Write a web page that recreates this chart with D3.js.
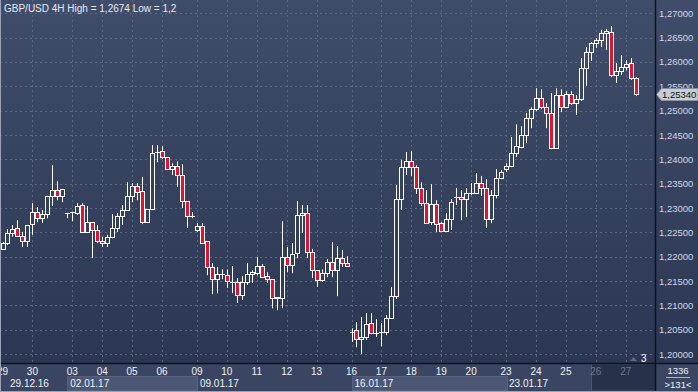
<!DOCTYPE html>
<html>
<head>
<meta charset="utf-8">
<script src="https://cdn.jsdelivr.net/npm/d3@7"></script>
<style>
    html, body { margin: 0; padding: 0; background: #2c3853; overflow: hidden; }
    svg { display: block; font-family: "Liberation Sans", Arial, sans-serif; }
</style>
</head>
<body>
<div id="chart"></div>
<script>
// GBP/USD 4H candles (oldest first)
const opens = [
    1.2216, 1.2228, 1.2249, 1.2259, 1.2243, 1.2232, 1.2267, 1.2292, 1.2279, 1.2288,
    1.2325, 1.2337, 1.2325, 1.2290, 1.2292, 1.2290, 1.2306, 1.2251, 1.2271, 1.2255,
    1.2232, 1.2228, 1.2241, 1.2259, 1.2283, 1.2296, 1.2325, 1.2345, 1.2335, 1.2271,
    1.2298, 1.2415, 1.2417, 1.2405, 1.2380, 1.2386, 1.2368, 1.2314, 1.2283, 1.2255,
    1.2263, 1.2232, 1.2179, 1.2154, 1.2164, 1.2162, 1.2148, 1.2148, 1.2121, 1.2148,
    1.2164, 1.2166, 1.2181, 1.2160, 1.2154, 1.2115, 1.2115, 1.2199, 1.2183, 1.2207,
    1.2286, 1.2290, 1.2209, 1.2172, 1.2152, 1.2166, 1.2189, 1.2172, 1.2197, 1.2187,
    1.2045, 1.2049, 1.2031, 1.2035, 1.2064, 1.2043, 1.2045, 1.2045, 1.2074, 1.2119,
    1.2318, 1.2384, 1.2396, 1.2384, 1.2341, 1.2310, 1.2271, 1.2308, 1.2269, 1.2253,
    1.2277, 1.2322, 1.2322, 1.2318, 1.2331, 1.2331, 1.2351, 1.2341, 1.2277, 1.2327,
    1.2362, 1.2380, 1.2386, 1.2413, 1.2425, 1.2450, 1.2485, 1.2503, 1.2526, 1.2507,
    1.2495, 1.2423, 1.2532, 1.2507, 1.2534, 1.2516, 1.2524, 1.2588, 1.2620, 1.2639,
    1.2645, 1.2659, 1.2662, 1.2573, 1.2581, 1.2590, 1.2598, 1.2567
];
const highs = [
    1.2230, 1.2257, 1.2265, 1.2275, 1.2251, 1.2265, 1.2310, 1.2302, 1.2296, 1.2325,
    1.2388, 1.2355, 1.2339, 1.2290, 1.2292, 1.2310, 1.2310, 1.2304, 1.2271, 1.2265,
    1.2241, 1.2245, 1.2288, 1.2290, 1.2306, 1.2353, 1.2351, 1.2351, 1.2364, 1.2298,
    1.2429, 1.2429, 1.2427, 1.2405, 1.2392, 1.2396, 1.2390, 1.2314, 1.2292, 1.2269,
    1.2269, 1.2232, 1.2187, 1.2179, 1.2174, 1.2174, 1.2181, 1.2156, 1.2160, 1.2187,
    1.2172, 1.2199, 1.2185, 1.2168, 1.2154, 1.2117, 1.2273, 1.2220, 1.2228, 1.2314,
    1.2306, 1.2306, 1.2216, 1.2172, 1.2174, 1.2195, 1.2230, 1.2222, 1.2214, 1.2201,
    1.2053, 1.2066, 1.2076, 1.2084, 1.2084, 1.2072, 1.2064, 1.2080, 1.2138, 1.2347,
    1.2399, 1.2415, 1.2417, 1.2388, 1.2353, 1.2337, 1.2349, 1.2316, 1.2271, 1.2290,
    1.2318, 1.2341, 1.2337, 1.2341, 1.2351, 1.2372, 1.2366, 1.2359, 1.2337, 1.2380,
    1.2378, 1.2392, 1.2446, 1.2472, 1.2468, 1.2495, 1.2507, 1.2546, 1.2544, 1.2516,
    1.2536, 1.2546, 1.2544, 1.2540, 1.2540, 1.2532, 1.2608, 1.2631, 1.2641, 1.2649,
    1.2666, 1.2668, 1.2674, 1.2598, 1.2614, 1.2604, 1.2608, 1.2569
];
const lows = [
    1.2214, 1.2224, 1.2241, 1.2241, 1.2220, 1.2220, 1.2245, 1.2271, 1.2269, 1.2279,
    1.2304, 1.2316, 1.2312, 1.2279, 1.2273, 1.2286, 1.2249, 1.2249, 1.2197, 1.2228,
    1.2220, 1.2220, 1.2238, 1.2251, 1.2265, 1.2296, 1.2312, 1.2316, 1.2267, 1.2271,
    1.2298, 1.2394, 1.2401, 1.2378, 1.2368, 1.2343, 1.2300, 1.2259, 1.2279, 1.2251,
    1.2228, 1.2162, 1.2123, 1.2125, 1.2154, 1.2136, 1.2125, 1.2105, 1.2111, 1.2142,
    1.2146, 1.2162, 1.2156, 1.2146, 1.2094, 1.2090, 1.2094, 1.2168, 1.2166, 1.2197,
    1.2249, 1.2197, 1.2156, 1.2138, 1.2148, 1.2158, 1.2158, 1.2119, 1.2179, 1.2179,
    1.2025, 1.2014, 1.2000, 1.2029, 1.2041, 1.2035, 1.2016, 1.2039, 1.2074, 1.2113,
    1.2296, 1.2368, 1.2366, 1.2329, 1.2304, 1.2269, 1.2265, 1.2251, 1.2251, 1.2251,
    1.2255, 1.2306, 1.2275, 1.2281, 1.2327, 1.2329, 1.2325, 1.2259, 1.2269, 1.2320,
    1.2359, 1.2374, 1.2384, 1.2405, 1.2423, 1.2433, 1.2464, 1.2499, 1.2503, 1.2464,
    1.2421, 1.2423, 1.2497, 1.2505, 1.2512, 1.2491, 1.2520, 1.2551, 1.2602, 1.2629,
    1.2631, 1.2625, 1.2569, 1.2557, 1.2573, 1.2583, 1.2563, 1.2530
];
const closes = [
    1.2228, 1.2249, 1.2257, 1.2243, 1.2232, 1.2265, 1.2292, 1.2279, 1.2288, 1.2325,
    1.2337, 1.2325, 1.2339, 1.2290, 1.2292, 1.2304, 1.2251, 1.2271, 1.2255, 1.2232,
    1.2228, 1.2241, 1.2259, 1.2283, 1.2296, 1.2325, 1.2345, 1.2333, 1.2271, 1.2298,
    1.2413, 1.2415, 1.2405, 1.2380, 1.2386, 1.2368, 1.2314, 1.2283, 1.2283, 1.2263,
    1.2228, 1.2179, 1.2154, 1.2164, 1.2164, 1.2150, 1.2148, 1.2121, 1.2148, 1.2164,
    1.2168, 1.2181, 1.2158, 1.2154, 1.2115, 1.2117, 1.2199, 1.2183, 1.2205, 1.2286,
    1.2290, 1.2209, 1.2172, 1.2152, 1.2166, 1.2189, 1.2172, 1.2197, 1.2187, 1.2181,
    1.2045, 1.2031, 1.2035, 1.2062, 1.2043, 1.2043, 1.2045, 1.2074, 1.2119, 1.2318,
    1.2384, 1.2396, 1.2384, 1.2341, 1.2310, 1.2269, 1.2308, 1.2267, 1.2253, 1.2277,
    1.2312, 1.2322, 1.2318, 1.2331, 1.2331, 1.2351, 1.2341, 1.2277, 1.2327, 1.2362,
    1.2374, 1.2386, 1.2413, 1.2427, 1.2450, 1.2485, 1.2503, 1.2526, 1.2507, 1.2495,
    1.2423, 1.2532, 1.2507, 1.2534, 1.2516, 1.2524, 1.2588, 1.2620, 1.2639, 1.2645,
    1.2659, 1.2664, 1.2573, 1.2581, 1.2590, 1.2596, 1.2567, 1.2534
];

// price axis ticks
const priceTicks = [1.20, 1.205, 1.21, 1.215, 1.22, 1.225, 1.23, 1.235, 1.24, 1.245, 1.25, 1.255, 1.26, 1.265, 1.27];

// day labels and the candle each day starts at
const dayLabels = ["29", "30", "03", "04", "05", "06", "09", "10", "11", "12", "13", "16", "17", "18", "19", "20", "23", "24", "25", "26", "27"];
const dayStart = [0, 6, 14, 20, 26, 32, 39, 45, 51, 57, 63, 70, 76, 82, 88, 94, 101, 107, 113, 119, 125];

// week labels and the candle each week starts at
const weekLabels = ["29.12.16", "02.01.17", "09.01.17", "16.01.17", "23.01.17"];
const weekStart = [-20, 13, 39, 70, 101];

const titleText = "GBP/USD 4H High = 1,2674 Low = 1,2";
const lastPrice = 1.2534;
const barCount = "1336";
const barsShown = ">131<";

const W = 698, H = 392;
const plotRight = 655, plotBottom = 363;

const svg = d3.select("#chart").append("svg")
    .attr("width", W)
    .attr("height", H);

const defs = svg.append("defs");
const grad = defs.append("linearGradient")
    .attr("id", "bg")
    .attr("gradientUnits", "userSpaceOnUse")
    .attr("x1", 0).attr("y1", 0).attr("x2", 0).attr("y2", plotBottom);
grad.append("stop").attr("offset", 0).attr("stop-color", "#404d6a");
grad.append("stop").attr("offset", 1).attr("stop-color", "#2b3752");

// backgrounds
svg.append("rect").attr("width", W).attr("height", plotBottom).attr("fill", "url(#bg)");
svg.append("rect").attr("y", plotBottom).attr("width", W).attr("height", H - plotBottom).attr("fill", "#3a4661");

// scales
const n = closes.length;
const x = d3.scaleLinear().domain([0, n - 1]).range([2.5, 635.7]);
const y = d3.scaleLinear().domain([1.20, 1.27]).range([354.1, 13.3]);

const fmt = v => d3.format(".5f")(v).replace(".", ",");

// grid
const grid = svg.append("g").attr("stroke", "#5a6783").attr("stroke-dasharray", "2,3").attr("stroke-width", 1);
grid.selectAll(".h").data(priceTicks).enter().append("line")
    .attr("x1", 0).attr("x2", plotRight)
    .attr("y1", d => Math.round(y(d)) + 0.5)
    .attr("y2", d => Math.round(y(d)) + 0.5);
grid.selectAll(".v").data(dayStart.filter(d => d > 0)).enter().append("line")
    .attr("y1", 0).attr("y2", plotBottom)
    .attr("x1", d => Math.round(x(d)) + 0.5)
    .attr("x2", d => Math.round(x(d)) + 0.5);

// candles
const candles = d3.range(n).map(i => ({ i, o: opens[i], h: highs[i], l: lows[i], c: closes[i] }));
const cg = svg.append("g");
cg.selectAll(".wick").data(candles).enter().append("line")
    .attr("x1", d => Math.round(x(d.i)) + 0.5)
    .attr("x2", d => Math.round(x(d.i)) + 0.5)
    .attr("y1", d => y(d.h))
    .attr("y2", d => y(d.l))
    .attr("stroke", "#ffffff")
    .attr("stroke-width", 1);
cg.selectAll(".body").data(candles).enter().append("rect")
    .attr("x", d => Math.round(x(d.i)) - 1.5)
    .attr("width", 4)
    .attr("y", d => Math.round(y(Math.max(d.o, d.c))) + 0.5)
    .attr("height", d => Math.max(Math.round(Math.abs(y(d.o) - y(d.c))), 0.01))
    .attr("fill", d => d.c < d.o ? "#e4122e" : "url(#bg)")
    .attr("stroke", "#ffffff")
    .attr("stroke-width", 1);

// title
svg.append("text")
    .attr("x", 4).attr("y", 12)
    .attr("fill", "#e6eaf2")
    .attr("font-size", 10)
    .text(titleText);

// little marker at bottom right of the plot
svg.append("path")
    .attr("d", "M630,361 L633.5,357 L637,361 Z")
    .attr("fill", "#5f6b86");
svg.append("text")
    .attr("x", 641).attr("y", 362)
    .attr("fill", "#ffffff")
    .attr("font-size", 10)
    .text("3");

// price axis
svg.append("g").selectAll("text").data(priceTicks).enter().append("text")
    .attr("x", 659)
    .attr("y", d => y(d) + 3.5)
    .attr("fill", "#cfd8ea")
    .attr("font-size", 9.5)
    .text(d => fmt(d));

// last price marker
const ly = Math.round(y(lastPrice));
svg.append("path")
    .attr("d", `M656.5,${ly + 0.5} L661.5,${ly - 5.5} L698,${ly - 5.5} L698,${ly + 6.5} L661.5,${ly + 6.5} Z`)
    .attr("fill", "#c8cdd6")
    .attr("stroke", "#8a909c")
    .attr("stroke-width", 1);
svg.append("text")
    .attr("x", 662).attr("y", ly + 4)
    .attr("fill", "#111111")
    .attr("font-size", 9.5)
    .text(fmt(lastPrice));

// time axis: shaded week boxes
const wk = svg.append("g");
weekStart.forEach((s, k) => {
    const x0 = Math.max(x(s), 0);
    const x1 = k + 1 < weekStart.length ? x(weekStart[k + 1]) : plotRight;
    if (k % 2 === 1) {
        wk.append("rect")
            .attr("x", Math.round(x0) + 0.5).attr("y", 376.5)
            .attr("width", Math.round(x1 - x0)).attr("height", 14)
            .attr("fill", "#4b5774")
            .attr("stroke", "#56627d");
    }
});

// darker block for the last days
const darkFrom = Math.round(x(dayStart[dayStart.length - 2]) - 5);
svg.append("rect")
    .attr("x", darkFrom + 0.5).attr("y", plotBottom + 1)
    .attr("width", plotRight - darkFrom).attr("height", H - plotBottom - 2)
    .attr("fill", "#27314a")
    .attr("stroke", "#4a556e");

svg.append("g").selectAll("text").data(dayLabels).enter().append("text")
    .attr("x", (d, k) => x(dayStart[k]))
    .attr("y", 375)
    .attr("text-anchor", "middle")
    .attr("fill", (d, k) => x(dayStart[k]) > darkFrom ? "#6f7a92" : "#eef1f6")
    .attr("font-size", 10)
    .text(d => d);

svg.append("g").selectAll("text").data(weekLabels).enter().append("text")
    .attr("x", (d, k) => Math.max(x(weekStart[k]) + 3, 10))
    .attr("y", 387)
    .attr("fill", "#eef1f6")
    .attr("font-size", 10)
    .text(d => d);

// bar counter in the corner
svg.append("text")
    .attr("x", 678).attr("y", 374)
    .attr("text-anchor", "middle")
    .attr("fill", "#eef1f6")
    .attr("font-size", 9.5)
    .text(barCount);
svg.append("line")
    .attr("x1", 666).attr("x2", 690)
    .attr("y1", 377.5).attr("y2", 377.5)
    .attr("stroke", "#aab2c2");
svg.append("text")
    .attr("x", 678).attr("y", 388)
    .attr("text-anchor", "middle")
    .attr("fill", "#eef1f6")
    .attr("font-size", 9.5)
    .text(barsShown);

// frame lines
svg.append("line")
    .attr("x1", plotRight + 0.5).attr("x2", plotRight + 0.5)
    .attr("y1", 0).attr("y2", H)
    .attr("stroke", "#0c111c").attr("stroke-width", 1.5);
svg.append("line")
    .attr("x1", 0).attr("x2", W)
    .attr("y1", plotBottom + 0.5).attr("y2", plotBottom + 0.5)
    .attr("stroke", "#0c111c").attr("stroke-width", 1.5);
svg.append("line")
    .attr("x1", 0.5).attr("x2", 0.5)
    .attr("y1", 0).attr("y2", H)
    .attr("stroke", "#9aa3b5");
svg.append("line")
    .attr("x1", 0).attr("x2", W)
    .attr("y1", H - 0.5).attr("y2", H - 0.5)
    .attr("stroke", "#9aa3b5");
</script>
</body>
</html>
